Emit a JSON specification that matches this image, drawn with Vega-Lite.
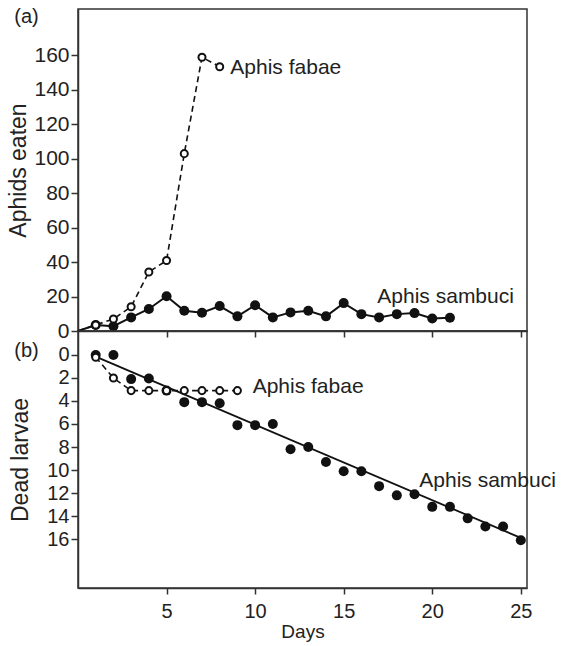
{
  "$schema": "https://vega.github.io/schema/vega-lite/v6.json",
  "padding": {"left": 7, "top": 5, "right": 5, "bottom": 5},
  "bounds": "flush",
  "spacing": 0,
  "config": {
    "font": "Liberation Sans",
    "view": {"stroke": "#333", "strokeWidth": 1.5},
    "axis": {
      "grid": false,
      "domainColor": "#333",
      "domainWidth": 1.5,
      "tickColor": "#333",
      "tickWidth": 1.5,
      "tickSize": 6,
      "labelFont": "Liberation Sans",
      "labelFontSize": 21,
      "labelColor": "#222",
      "labelPadding": 2,
      "titleFont": "Liberation Sans",
      "titleFontWeight": "normal",
      "titleColor": "#222"
    },
    "text": {"font": "Liberation Sans", "fontSize": 21, "color": "#222", "align": "left", "baseline": "middle"}
  },
  "datasets": {
    "eaten": [
      {"day": 0, "species": "Aphis fabae", "count": 0},
      {"day": 1, "species": "Aphis fabae", "count": 3.5},
      {"day": 2, "species": "Aphis fabae", "count": 7},
      {"day": 3, "species": "Aphis fabae", "count": 14.1},
      {"day": 4, "species": "Aphis fabae", "count": 34.3},
      {"day": 5, "species": "Aphis fabae", "count": 40.9},
      {"day": 6, "species": "Aphis fabae", "count": 103},
      {"day": 7, "species": "Aphis fabae", "count": 159},
      {"day": 8, "species": "Aphis fabae", "count": 153.5},
      {"day": 0, "species": "Aphis sambuci", "count": 0},
      {"day": 1, "species": "Aphis sambuci", "count": 3.5},
      {"day": 2, "species": "Aphis sambuci", "count": 2.8},
      {"day": 3, "species": "Aphis sambuci", "count": 7.9},
      {"day": 4, "species": "Aphis sambuci", "count": 12.8},
      {"day": 5, "species": "Aphis sambuci", "count": 20.2},
      {"day": 6, "species": "Aphis sambuci", "count": 11.8},
      {"day": 7, "species": "Aphis sambuci", "count": 10.6},
      {"day": 8, "species": "Aphis sambuci", "count": 14.5},
      {"day": 9, "species": "Aphis sambuci", "count": 8.5},
      {"day": 10, "species": "Aphis sambuci", "count": 15},
      {"day": 11, "species": "Aphis sambuci", "count": 7.9},
      {"day": 12, "species": "Aphis sambuci", "count": 10.8},
      {"day": 13, "species": "Aphis sambuci", "count": 11.8},
      {"day": 14, "species": "Aphis sambuci", "count": 8.5},
      {"day": 15, "species": "Aphis sambuci", "count": 16.2},
      {"day": 16, "species": "Aphis sambuci", "count": 9.8},
      {"day": 17, "species": "Aphis sambuci", "count": 7.9},
      {"day": 18, "species": "Aphis sambuci", "count": 9.8},
      {"day": 19, "species": "Aphis sambuci", "count": 10.4},
      {"day": 20, "species": "Aphis sambuci", "count": 7.3},
      {"day": 21, "species": "Aphis sambuci", "count": 7.7}
    ],
    "dead": [
      {"day": 1, "species": "Aphis fabae", "count": 0.2},
      {"day": 2, "species": "Aphis fabae", "count": 2},
      {"day": 3, "species": "Aphis fabae", "count": 3.1},
      {"day": 4, "species": "Aphis fabae", "count": 3.1},
      {"day": 5, "species": "Aphis fabae", "count": 3.1},
      {"day": 6, "species": "Aphis fabae", "count": 3.1},
      {"day": 7, "species": "Aphis fabae", "count": 3.1},
      {"day": 8, "species": "Aphis fabae", "count": 3.1},
      {"day": 9, "species": "Aphis fabae", "count": 3.1},
      {"day": 1, "species": "Aphis sambuci", "count": 0},
      {"day": 2, "species": "Aphis sambuci", "count": 0},
      {"day": 3, "species": "Aphis sambuci", "count": 2.1},
      {"day": 4, "species": "Aphis sambuci", "count": 2.05},
      {"day": 5, "species": "Aphis sambuci", "count": 3.1},
      {"day": 6, "species": "Aphis sambuci", "count": 4.1},
      {"day": 7, "species": "Aphis sambuci", "count": 4.1},
      {"day": 8, "species": "Aphis sambuci", "count": 4.2},
      {"day": 9, "species": "Aphis sambuci", "count": 6.1},
      {"day": 10, "species": "Aphis sambuci", "count": 6.1},
      {"day": 11, "species": "Aphis sambuci", "count": 6},
      {"day": 12, "species": "Aphis sambuci", "count": 8.2},
      {"day": 13, "species": "Aphis sambuci", "count": 8},
      {"day": 14, "species": "Aphis sambuci", "count": 9.3},
      {"day": 15, "species": "Aphis sambuci", "count": 10.1},
      {"day": 16, "species": "Aphis sambuci", "count": 10.1},
      {"day": 17, "species": "Aphis sambuci", "count": 11.4},
      {"day": 18, "species": "Aphis sambuci", "count": 12.2},
      {"day": 19, "species": "Aphis sambuci", "count": 12.1},
      {"day": 20, "species": "Aphis sambuci", "count": 13.2},
      {"day": 21, "species": "Aphis sambuci", "count": 13.2},
      {"day": 22, "species": "Aphis sambuci", "count": 14.2},
      {"day": 23, "species": "Aphis sambuci", "count": 14.9},
      {"day": 24, "species": "Aphis sambuci", "count": 14.9},
      {"day": 25, "species": "Aphis sambuci", "count": 16.1}
    ],
    "fit": [
      {"day": 1, "count": 0.15},
      {"day": 25, "count": 15.9}
    ]
  },
  "vconcat": [
    {
      "width": 449,
      "height": 322,
      "layer": [
        {
          "data": {"name": "eaten"},
          "transform": [{"filter": "datum.species === 'Aphis sambuci'"}],
          "mark": {"type": "line", "color": "#111", "strokeWidth": 2},
          "encoding": {
            "x": {
              "field": "day",
              "type": "quantitative",
              "scale": {"domain": [0, 25.35], "nice": false, "zero": false},
              "axis": {"values": [5, 10, 15, 20, 25], "tickCount": 10, "labels": false, "title": null}
            },
            "y": {
              "field": "count",
              "type": "quantitative",
              "scale": {"domain": [0, 187], "nice": false},
              "axis": {
                "values": [0, 20, 40, 60, 80, 100, 120, 140, 160],
                "tickCount": 20,
                "labelOverlap": false,
                "title": "Aphids eaten",
                "titleFontSize": 23,
                "titlePadding": 3,
                "tickSize": 7
              }
            }
          }
        },
        {
          "data": {"name": "eaten"},
          "transform": [{"filter": "datum.species === 'Aphis sambuci' && datum.day >= 1"}],
          "mark": {"type": "point", "filled": true, "color": "#111", "size": 100, "opacity": 1},
          "encoding": {
            "x": {"field": "day", "type": "quantitative"},
            "y": {"field": "count", "type": "quantitative"}
          }
        },
        {
          "data": {"name": "eaten"},
          "transform": [{"filter": "datum.species === 'Aphis fabae'"}],
          "mark": {"type": "line", "color": "#111", "strokeWidth": 1.6, "strokeDash": [6, 4]},
          "encoding": {
            "x": {"field": "day", "type": "quantitative"},
            "y": {"field": "count", "type": "quantitative"}
          }
        },
        {
          "data": {"name": "eaten"},
          "transform": [{"filter": "datum.species === 'Aphis fabae' && datum.day >= 1"}],
          "mark": {"type": "point", "filled": true, "fill": "white", "stroke": "#111", "strokeWidth": 2, "size": 50, "opacity": 1},
          "encoding": {
            "x": {"field": "day", "type": "quantitative"},
            "y": {"field": "count", "type": "quantitative"}
          }
        },
        {
          "data": {"values": [{"note": "Aphis fabae"}]},
          "mark": {"type": "text"},
          "encoding": {"x": {"datum": 8.6}, "y": {"datum": 152.5}, "text": {"field": "note"}}
        },
        {
          "data": {"values": [{"note": "Aphis sambuci"}]},
          "mark": {"type": "text"},
          "encoding": {"x": {"datum": 16.9}, "y": {"datum": 19.5}, "text": {"field": "note"}}
        },
        {
          "data": {"values": [{"note": "(a)"}]},
          "mark": {"type": "text", "clip": false, "fontSize": 20},
          "encoding": {"x": {"datum": -3.6}, "y": {"datum": 182.5}, "text": {"field": "note"}}
        }
      ]
    },
    {
      "width": 449,
      "height": 257,
      "layer": [
        {
          "data": {"name": "fit"},
          "mark": {"type": "line", "color": "#111", "strokeWidth": 1.8},
          "encoding": {
            "x": {
              "field": "day",
              "type": "quantitative",
              "scale": {"domain": [0, 25.35], "nice": false, "zero": false},
              "axis": {
                "values": [5, 10, 15, 20, 25],
                "tickCount": 10,
                "title": "Days",
                "titleFontSize": 19,
                "labelFontSize": 20,
                "labelPadding": 7,
                "titlePadding": 1
              }
            },
            "y": {
              "field": "count",
              "type": "quantitative",
              "scale": {"domain": [-2.08, 20.25], "nice": false, "zero": false, "reverse": true},
              "axis": {
                "values": [0, 2, 4, 6, 8, 10, 12, 14, 16],
                "tickCount": 20,
                "labelOverlap": false,
                "labelFontSize": 20,
                "title": "Dead larvae",
                "titleFontSize": 23,
                "titlePadding": 14,
                "tickSize": 7
              }
            }
          }
        },
        {
          "data": {"name": "dead"},
          "transform": [{"filter": "datum.species === 'Aphis sambuci'"}],
          "mark": {"type": "point", "filled": true, "color": "#111", "size": 100, "opacity": 1},
          "encoding": {
            "x": {"field": "day", "type": "quantitative"},
            "y": {"field": "count", "type": "quantitative"}
          }
        },
        {
          "data": {"name": "dead"},
          "transform": [{"filter": "datum.species === 'Aphis fabae'"}],
          "mark": {"type": "line", "color": "#111", "strokeWidth": 1.6, "strokeDash": [6, 4]},
          "encoding": {
            "x": {"field": "day", "type": "quantitative"},
            "y": {"field": "count", "type": "quantitative"}
          }
        },
        {
          "data": {"name": "dead"},
          "transform": [{"filter": "datum.species === 'Aphis fabae'"}],
          "mark": {"type": "point", "filled": true, "fill": "white", "stroke": "#111", "strokeWidth": 2, "size": 50, "opacity": 1},
          "encoding": {
            "x": {"field": "day", "type": "quantitative"},
            "y": {"field": "count", "type": "quantitative"}
          }
        },
        {
          "data": {"values": [{"note": "Aphis fabae"}]},
          "mark": {"type": "text"},
          "encoding": {"x": {"datum": 9.86}, "y": {"datum": 2.78}, "text": {"field": "note"}}
        },
        {
          "data": {"values": [{"note": "Aphis sambuci"}]},
          "mark": {"type": "text"},
          "encoding": {"x": {"datum": 19.27}, "y": {"datum": 10.94}, "text": {"field": "note"}}
        },
        {
          "data": {"values": [{"note": "(b)"}]},
          "mark": {"type": "text", "clip": false, "fontSize": 20},
          "encoding": {"x": {"datum": -3.6}, "y": {"datum": -0.3}, "text": {"field": "note"}}
        }
      ]
    }
  ]
}
